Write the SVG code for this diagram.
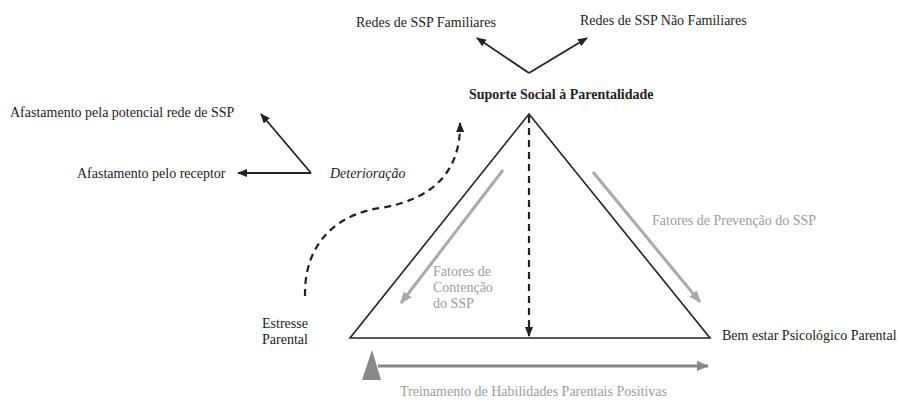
<svg xmlns="http://www.w3.org/2000/svg" width="898" height="400" viewBox="0 0 898 400">
<style>
  text { font-family: "Liberation Serif", "Times New Roman", serif; font-size: 14px; fill: #222; }
  .b { font-weight: bold; }
  .i { font-style: italic; }
  .g { fill: #9c9c9c; }
  .blk { stroke: #222; stroke-width: 1.8; fill: none; }
  .dash { stroke: #222; stroke-width: 2.2; fill: none; stroke-dasharray: 7 5; }
  .gry { stroke: #aaaaaa; stroke-width: 3; fill: none; }
  .gry2 { stroke: #888888; stroke-width: 3; fill: none; }
</style>
<defs>
  <marker id="ah" markerWidth="10" markerHeight="8" refX="9" refY="4" orient="auto" markerUnits="userSpaceOnUse">
    <path d="M0,0 L10,4 L0,8 z" fill="#222"/>
  </marker>
  <marker id="gh" markerWidth="12" markerHeight="10" refX="11" refY="5" orient="auto" markerUnits="userSpaceOnUse">
    <path d="M0,0 L12,5 L0,10 z" fill="#aaaaaa"/>
  </marker>
  <marker id="gh2" markerWidth="12" markerHeight="10" refX="11" refY="5" orient="auto" markerUnits="userSpaceOnUse">
    <path d="M0,0 L12,5 L0,10 z" fill="#888888"/>
  </marker>
</defs>
<rect width="898" height="400" fill="#ffffff"/>

<g id="triangle">
  <path d="M529,114 L710,338 L350,338 Z" stroke="#222" stroke-width="1.6" fill="none" stroke-linejoin="miter"/>
</g>

<g id="connectors">
  <!-- top arrows -->
  <line class="blk" x1="529" y1="73" x2="477" y2="38" marker-end="url(#ah)"/>
  <line class="blk" x1="529" y1="73" x2="587" y2="38" marker-end="url(#ah)"/>
  <!-- deterioration arrows -->
  <line class="blk" x1="311" y1="173" x2="261" y2="114" marker-end="url(#ah)"/>
  <line class="blk" x1="311" y1="173" x2="238" y2="173" marker-end="url(#ah)"/>
  <!-- vertical dashed -->
  <line class="dash" x1="529" y1="116" x2="529" y2="336" marker-end="url(#ah)"/>
  <!-- dashed curve -->
  <path class="dash" d="M305,296 C304,240 340,214 380,208 C432,200 461,172 460,123" marker-end="url(#ah)"/>
  <!-- gray arrows -->
  <line class="gry" x1="503" y1="170" x2="401" y2="303" marker-end="url(#gh)"/>
  <line class="gry" x1="593" y1="172" x2="700" y2="302" marker-end="url(#gh)"/>
  <line class="gry2" x1="378" y1="366" x2="708" y2="366" marker-end="url(#gh2)"/>
  <path d="M372,350 L381,380 L362,380 Z" fill="#888888"/>
</g>

<g id="n-redes-fam"><text x="356" y="27">Redes de SSP Familiares</text></g>
<g id="n-redes-naofam"><text x="580" y="25">Redes de SSP Não Familiares</text></g>
<g id="n-suporte"><text class="b" x="469" y="99">Suporte Social à Parentalidade</text></g>
<g id="n-afast-rede"><text x="10" y="117">Afastamento pela potencial rede de SSP</text></g>
<g id="n-afast-rec"><text x="77" y="178">Afastamento pelo receptor</text></g>
<g id="n-deterioracao"><text class="i" x="330" y="178">Deterioração</text></g>
<g id="n-prevencao"><text class="g" x="652" y="225">Fatores de Prevenção do SSP</text></g>
<g id="n-contencao">
  <text class="g" x="433" y="276">Fatores de</text>
  <text class="g" x="433" y="292">Contenção</text>
  <text class="g" x="433" y="308">do SSP</text>
</g>
<g id="n-estresse">
  <text x="262" y="328">Estresse</text>
  <text x="262" y="344">Parental</text>
</g>
<g id="n-bemestar"><text x="722" y="340">Bem estar Psicológico Parental</text></g>
<g id="n-treinamento"><text class="g" x="400" y="396">Treinamento de Habilidades Parentais Positivas</text></g>
</svg>
